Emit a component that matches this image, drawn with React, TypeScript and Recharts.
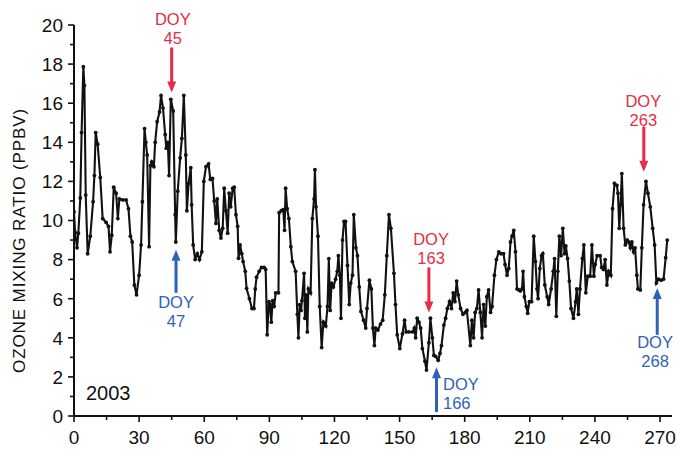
import React from 'react';
import { LineChart, Line, XAxis, YAxis, ReferenceLine, ReferenceDot } from 'recharts';

const days = [
  0, 0.5, 1.4, 2, 2.9, 3.5, 4.3, 4.8, 5.4, 6.3, 7.5, 8.8, 9.4, 10, 10.9, 12.1, 13.2, 14.8, 15.9, 16.6,
  17.4, 18.3, 19.4, 20.2, 20.9, 22.5, 24, 25.1, 26, 26.8, 27.8, 28.8, 30, 30.9, 31.5, 32.5, 33.1, 33.7, 34.6, 35.2,
  35.8, 36.8, 37.4, 38.3, 39.4, 40.1, 41, 42, 42.5, 43.2, 43.8, 44.6, 45.7, 46.6, 46.9, 47.8, 48.9, 49.7, 50.6, 51.5,
  52, 52.8, 53.8, 54.2, 54.9, 55.8, 56.8, 57.8, 58.9, 59.8, 60.8, 62, 62.8, 63.8, 64.6, 65.4, 66, 66.9, 67.7, 68.5,
  69.2, 70, 70.8, 71.5, 72.2, 73.1, 73.8, 74.6, 75.4, 75.8, 76.5, 77.3, 77.9, 78.9, 79.5, 80.8, 82, 82.9, 83.5, 84.1,
  85.3, 86.4, 87.6, 88.3, 89, 89.8, 90.3, 90.9, 91.5, 92.2, 92.9, 94.2, 94.5, 95.5, 96.4, 97, 97.5, 98.2, 99, 99.9,
  100.6, 102.1, 102.9, 103.4, 104, 104.6, 105, 106, 106.4, 107, 107.5, 108, 109, 109.8, 110.6, 111, 111.5, 112.4, 113.2, 114.1,
  114.9, 116, 116.8, 117.4, 118, 118.7, 119.5, 120.5, 121.3, 121.8, 122.5, 123, 123.7, 124.4, 125.1, 126, 126.8, 127.5, 128.3, 128.9,
  129.9, 130.6, 131.4, 132.2, 133.4, 134.4, 135, 136.1, 137, 137.7, 138.4, 139, 140, 141.2, 142.2, 143.2, 144.1, 145.1, 146, 147.4,
  148.1, 148.9, 150.1, 151.3, 152.3, 153, 154.3, 156, 156.8, 157.4, 158.1, 158.9, 159.7, 160.5, 161.7, 162.4, 163.5, 164.2, 165.1, 165.8,
  166.6, 167.8, 168.6, 169.3, 170.4, 171.2, 172, 173, 173.9, 174.7, 175.5, 176.3, 177, 178.1, 179.2, 180.3, 181, 182.6, 183.3, 184.1,
  184.8, 185.6, 186.4, 187.2, 188, 188.7, 189.5, 190.2, 191, 191.9, 192.6, 193.7, 194.6, 195.7, 196.7, 197.9, 198.6, 199.5, 200.3, 201.1,
  201.8, 202.6, 203.4, 204.1, 204.9, 205.7, 206.4, 206.9, 207.5, 208.4, 209, 209.8, 210.8, 211.8, 212.6, 213.3, 213.8, 214.6, 215.4, 216,
  216.9, 218, 218.7, 219.8, 220.8, 221.4, 222.2, 222.9, 223.6, 224.4, 225.2, 226, 226.6, 227.4, 228.2, 229, 230.1, 231.1, 231.6, 232.4,
  233.1, 234.2, 234.9, 235.8, 236.7, 237.8, 238.6, 239.5, 240.1, 241, 242.4, 243.1, 243.9, 244.7, 245.5, 246.3, 247.3, 248.1, 249, 250.1,
  250.6, 251.2, 251.8, 252.4, 253.2, 254, 254.9, 255.5, 256.3, 257, 257.8, 258.5, 259.3, 259.8, 260.9, 261.6, 262.4, 263.5, 264.4, 265.5,
  266.6, 267.5, 268.3, 269.3, 270.5, 271.6, 272.6, 273.3,
];

const ozone = [
  10.45, 9.4, 8.6, 9.35, 11.15, 14.5, 17.87, 16.9, 11.3, 8.3, 9.2, 10.96, 12.3, 14.5, 13.9, 12.2, 10.1, 9.9, 9.7, 8.4,
  9.25, 11.7, 11.4, 10.1, 11.1, 11.05, 11.05, 10.6, 9.2, 8.9, 6.7, 6.2, 7.2, 8.75, 10.96, 14.7, 14.0, 13.35, 8.66, 12.8,
  13.0, 12.75, 14.0, 15.05, 15.55, 16.4, 15.75, 14.4, 13.7, 14.0, 12.3, 16.2, 15.6, 10.3, 8.9, 11.5, 13.2, 14.2, 16.4, 13.35,
  10.5, 11.9, 12.7, 10.8, 8.75, 8.0, 8.3, 8.0, 8.4, 12.0, 12.75, 12.9, 12.1, 12.15, 11.0, 9.85, 11.1, 9.5, 9.1, 9.6,
  11.65, 10.5, 9.35, 11.4, 10.7, 11.65, 11.7, 10.3, 9.7, 8.07, 8.75, 8.3, 7.9, 7.4, 6.53, 6.0, 5.5, 5.5, 6.5, 7.1,
  7.4, 7.6, 7.6, 7.5, 4.15, 5.85, 5.7, 4.8, 5.9, 5.6, 6.3, 6.3, 10.4, 10.5, 10.55, 9.5, 11.65, 10.6, 10.1, 8.66,
  7.9, 7.4, 5.2, 4.0, 5.7, 5.4, 5.9, 7.3, 5.0, 6.2, 4.3, 6.5, 6.3, 10.1, 11.1, 12.6, 10.7, 9.2, 5.6, 3.5,
  4.8, 4.6, 5.6, 8.05, 5.4, 6.8, 6.6, 7.0, 7.4, 8.2, 7.2, 5.0, 9.0, 9.95, 9.95, 7.7, 5.7, 6.8, 7.2, 10.3,
  8.6, 8.2, 6.6, 5.35, 4.9, 4.5, 5.5, 6.95, 6.5, 4.5, 3.6, 4.5, 4.4, 4.7, 4.9, 6.2, 8.2, 10.3, 9.6, 7.3,
  5.7, 4.15, 3.45, 4.2, 4.9, 4.3, 4.3, 4.3, 4.5, 4.0, 5.0, 4.8, 4.5, 3.45, 2.8, 2.35, 3.75, 5.0, 4.0, 3.1,
  3.05, 2.85, 3.2, 3.6, 4.65, 5.0, 5.5, 5.85, 5.5, 6.3, 5.85, 6.9, 6.2, 5.5, 5.2, 5.3, 5.4, 3.6, 4.9, 4.0,
  5.3, 5.5, 6.45, 5.3, 4.0, 5.7, 4.6, 6.1, 6.45, 5.3, 5.6, 7.2, 8.0, 8.4, 8.3, 8.3, 7.75, 7.2, 7.55, 8.9,
  9.2, 9.5, 8.4, 6.5, 6.45, 6.4, 6.5, 7.4, 6.1, 5.6, 5.25, 5.85, 5.85, 9.2, 7.9, 6.5, 6.0, 7.55, 8.2, 8.3,
  6.7, 6.1, 5.7, 6.5, 7.4, 8.05, 5.1, 7.4, 9.2, 8.2, 9.6, 8.3, 8.7, 8.05, 6.9, 5.5, 5.0, 5.85, 6.5, 5.2,
  6.5, 8.05, 8.75, 6.3, 7.15, 7.15, 8.75, 7.15, 7.75, 8.2, 8.2, 7.6, 7.5, 8.0, 6.7, 7.4, 7.2, 10.6, 11.9, 11.8,
  11.4, 9.6, 10.8, 12.4, 9.6, 8.75, 9.0, 8.9, 8.6, 8.9, 8.4, 8.6, 7.2, 6.5, 6.45, 8.6, 10.8, 12.0, 11.4, 10.7,
  9.6, 8.75, 6.8, 7.0, 6.95, 7.0, 8.1, 9.0,
];

const xTicks = [0, 15, 30, 45, 60, 75, 90, 105, 120, 135, 150, 165, 180, 195, 210, 225, 240, 255, 270];
const yTicks = [0, 1, 2, 3, 4, 5, 6, 7, 8, 9, 10, 11, 12, 13, 14, 15, 16, 17, 18, 19, 20];

const annLabels = ['45', '47', '163', '166', '263', '268'];
const annDays = [45, 47, 163.5, 167, 262.5, 268.7];
const annTip = [16.55, 8.5, 5.3, 2.5, 12.5, 6.55];
const annTail = [18.85, 6.3, 7.6, 0.2, 14.8, 4.15];
const annTextDays = [45.5, 47, 164.5, 170, 262.3, 267.7];
const annTextVals = [20.0, 5.52, 8.75, 1.33, 15.8, 3.48];
const annKinds = ['red', 'blue', 'red', 'blue', 'red', 'blue'];

const yearLabel = '2003';
const yearPos = { day: 5.5, value: 0.82 };
const yAxisTitle = 'OZONE MIXING RATIO (PPBV)';

const RED = '#e62d45';
const BLUE = '#2f62b6';
const INK = '#111111';
const FONT = '"Liberation Sans", Arial, Helvetica, sans-serif';

const data = days.map((d, i) => ({ day: d, o3: ozone[i] }));

const XTick = (props: any) => {
  const { x, y, payload } = props;
  const v = payload.value;
  const major = v % 30 === 0;
  return (
    <g>
      <line x1={x} x2={x} y1={y} y2={y + (major ? 6 : 4)} stroke={INK} strokeWidth={1.6} />
      {major && (
        <text x={x} y={y + 28} textAnchor="middle" fontSize={19} fill={INK} fontFamily={FONT}>
          {v}
        </text>
      )}
    </g>
  );
};

const YTick = (props: any) => {
  const { x, y, payload } = props;
  const v = payload.value;
  const major = v % 2 === 0;
  return (
    <g>
      <line x1={x} x2={x - (major ? 6 : 4)} y1={y} y2={y} stroke={INK} strokeWidth={1.6} />
      {major && (
        <text x={x - 11} y={y} dy="0.36em" textAnchor="end" fontSize={19} fill={INK} fontFamily={FONT}>
          {v}
        </text>
      )}
    </g>
  );
};

const YTitle = (props: any) => {
  const vb = props.viewBox || {};
  const cx = (vb.x || 0) + 19;
  const cy = (vb.y || 0) + (vb.height || 0) / 2 + 20;
  return (
    <text
      x={cx}
      y={cy}
      transform={`rotate(-90 ${cx} ${cy})`}
      textAnchor="middle"
      dominantBaseline="central"
      fontSize={17}
      letterSpacing={0.9}
      fill={INK}
      fontFamily={FONT}
    >
      {yAxisTitle}
    </text>
  );
};

const makeHead = (color: string, down: boolean) => (p: any) => {
  const { cx, cy } = p;
  if (cx == null || cy == null) return <g />;
  const h = 11;
  const w = 4.5;
  const d = down
    ? `M${cx - w},${cy - h} L${cx + w},${cy - h} L${cx},${cy} Z`
    : `M${cx - w},${cy + h} L${cx + w},${cy + h} L${cx},${cy} Z`;
  return <path d={d} fill={color} stroke="none" />;
};

const makeText = (color: string, label: string, anchor: string) => (p: any) => {
  const { cx, cy } = p;
  if (cx == null || cy == null) return <g />;
  return (
    <g>
      <text x={cx} y={cy} textAnchor={anchor} fontSize={16.5} fill={color} fontFamily={FONT}>
        DOY
      </text>
      <text x={cx} y={cy + 19} textAnchor={anchor} fontSize={16.5} fill={color} fontFamily={FONT}>
        {label}
      </text>
    </g>
  );
};

const yearShape = (p: any) => {
  const { cx, cy } = p;
  if (cx == null || cy == null) return <g />;
  return (
    <text x={cx} y={cy} textAnchor="start" fontSize={20} fill={INK} fontFamily={FONT}>
      {yearLabel}
    </text>
  );
};

const SmallDot = (p: any) => {
  const { cx, cy } = p;
  if (cx == null || cy == null) return <g key={p.key} />;
  return <circle key={p.key} cx={cx} cy={cy} r={1.9} fill={INK} />;
};

export default function App() {
  return (
    <div style={{ position: 'absolute', left: 0, top: 0, width: 677, height: 449, background: '#fff' }}>
      <LineChart width={677} height={449} data={data} margin={{ top: 25, right: 5, bottom: 0, left: 0 }}>
        <XAxis
          dataKey="day"
          type="number"
          domain={[0, 275.5]}
          allowDataOverflow
          ticks={xTicks}
          interval={0}
          height={33}
          tickSize={0}
          tickMargin={0}
          tickLine={false}
          axisLine={{ stroke: INK, strokeWidth: 2 }}
          tick={<XTick />}
        />
        <YAxis
          type="number"
          domain={[0, 20]}
          allowDataOverflow
          ticks={yTicks}
          interval={0}
          width={74}
          tickSize={0}
          tickMargin={0}
          tickLine={false}
          axisLine={{ stroke: INK, strokeWidth: 2 }}
          tick={<YTick />}
          label={<YTitle />}
        />
        <Line
          type="linear"
          dataKey="o3"
          stroke={INK}
          strokeWidth={2.1}
          dot={<SmallDot />}
          activeDot={false}
          isAnimationActive={false}
        />
        {annDays.map((d, i) => {
          const color = annKinds[i] === 'red' ? RED : BLUE;
          const down = annTail[i] > annTip[i];
          const shaftEnd = down ? annTip[i] + 0.45 : annTip[i] - 0.45;
          return (
            <ReferenceLine
              key={`s${i}`}
              segment={[
                { x: d, y: annTail[i] },
                { x: d, y: shaftEnd },
              ]}
              stroke={color}
              strokeWidth={3}
              ifOverflow="visible"
            />
          );
        })}
        {annDays.map((d, i) => {
          const color = annKinds[i] === 'red' ? RED : BLUE;
          const down = annTail[i] > annTip[i];
          return (
            <ReferenceDot
              key={`h${i}`}
              x={d}
              y={annTip[i]}
              r={0}
              ifOverflow="visible"
              shape={makeHead(color, down)}
            />
          );
        })}
        {annTextDays.map((d, i) => {
          const color = annKinds[i] === 'red' ? RED : BLUE;
          const anchor = annLabels[i] === '166' ? 'start' : 'middle';
          return (
            <ReferenceDot
              key={`t${i}`}
              x={d}
              y={annTextVals[i]}
              r={0}
              ifOverflow="visible"
              shape={makeText(color, annLabels[i], anchor)}
            />
          );
        })}
        <ReferenceDot x={yearPos.day} y={yearPos.value} r={0} ifOverflow="visible" shape={yearShape} />
      </LineChart>
    </div>
  );
}
